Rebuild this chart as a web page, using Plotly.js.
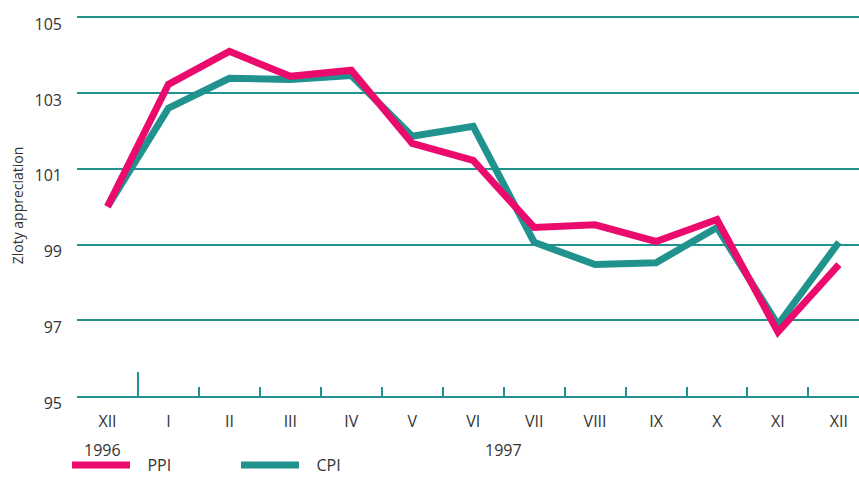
<!DOCTYPE html>
<html>
<head>
<meta charset="utf-8">
<script src="https://cdn.plot.ly/plotly-3.0.1.min.js"></script>
<style>
html,body{margin:0;padding:0;background:#fff;}
#chart{width:859px;height:482px;}
</style>
</head>
<body>
<div id="chart"></div>
<script>
// Data
const months = ["XII","I","II","III","IV","V","VI","VII","VIII","IX","X","XI","XII"];
const ppi = [100.0, 103.23, 104.1, 103.44, 103.6, 101.67, 101.22, 99.45, 99.52, 99.08, 99.66, 96.69, 98.47];
const cpi = [100.0, 102.6, 103.39, 103.36, 103.46, 101.86, 102.12, 99.06, 98.47, 98.52, 99.45, 96.88, 99.06];
const years = ["1996", "1997"];
const yearPos = [-0.08, 6.5];
const yTicks = [95, 97, 99, 101, 103, 105];

const idx = months.map((_, i) => i);
const bounds = months.slice(0, -1).map((_, i) => i - 0.5).concat([11.5]);
const normalTicks = bounds.filter(b => b !== 0.5);
const yearTick = [0.5];

const teal = "#21938f";
const pink = "#ea0b6d";
const txt = "#333333";
const fontFam = "'Open Sans', 'Noto Sans', sans-serif";
const nb = "\u00a0\u00a0\u00a0";

const data = [
  {x: [0], y: [null], xaxis: "x3", yaxis: "y", showlegend: false, hoverinfo: "skip", mode: "lines"},
  {x: [0], y: [null], xaxis: "x2", yaxis: "y", showlegend: false, hoverinfo: "skip", mode: "lines"},
  {x: idx, y: cpi, name: nb + "CPI", type: "scatter", mode: "lines",
   line: {color: teal, width: 7}, xaxis: "x", yaxis: "y", legendrank: 2},
  {x: idx, y: ppi, name: nb + "PPI", type: "scatter", mode: "lines",
   line: {color: pink, width: 7}, xaxis: "x", yaxis: "y", legendrank: 1}
];

const xr = [-0.5, 12.33];
const layout = {
  width: 859, height: 482,
  margin: {l: 77, r: 0, t: 15, b: 86},
  paper_bgcolor: "#fff", plot_bgcolor: "#fff",
  font: {family: fontFam, size: 16, color: txt},
  showlegend: true,
  legend: {orientation: "h", xref: "container", yref: "container", x: 0.078, xanchor: "left",
           y: 0, yanchor: "bottom", entrywidth: 96, entrywidthmode: "pixels", tracegroupgap: 0,
           font: {family: fontFam, size: 16, color: txt}, itemwidth: 58, bgcolor: "rgba(0,0,0,0)"},
  xaxis: {range: xr, tickvals: idx, ticktext: months, ticks: "", showgrid: false,
          zeroline: false, showline: false, tickfont: {size: 16, color: txt},
          ticklabelstandoff: 14, fixedrange: true},
  xaxis2: {range: xr, overlaying: "x", tickvals: normalTicks, ticktext: normalTicks.map(() => ""),
           ticks: "inside", ticklen: 9, tickwidth: 2, tickcolor: teal, showline: true,
           linecolor: teal, linewidth: 2, showgrid: false, zeroline: false, side: "bottom",
           anchor: "y", showticklabels: false},
  xaxis3: {range: xr, overlaying: "x", tickvals: yearTick, ticks: "inside", ticklen: 24,
           tickwidth: 2, tickcolor: teal, showline: false, showgrid: false, zeroline: false,
           side: "bottom", anchor: "y", showticklabels: false},
  yaxis: {range: [95, 105.06], tickvals: yTicks, ticktext: yTicks.map(String), showgrid: true,
          gridcolor: teal, gridwidth: 2, zeroline: false, showline: false, ticks: "",
          tickfont: {size: 16, color: txt}, ticklabelstandoff: 14, ticklabelshift: 7,
          title: {text: "Zloty appreciation", font: {size: 14, color: txt}, standoff: 7},
          fixedrange: true},
  annotations: years.map((t, i) => ({
    x: yearPos[i], xref: "x", y: (396 - 450) / 381, yref: "paper", text: t, showarrow: false,
    xanchor: "center", yanchor: "middle", font: {size: 16, color: txt}
  }))
};

Plotly.newPlot("chart", data, layout, {displayModeBar: false, staticPlot: true});
</script>
</body>
</html>
